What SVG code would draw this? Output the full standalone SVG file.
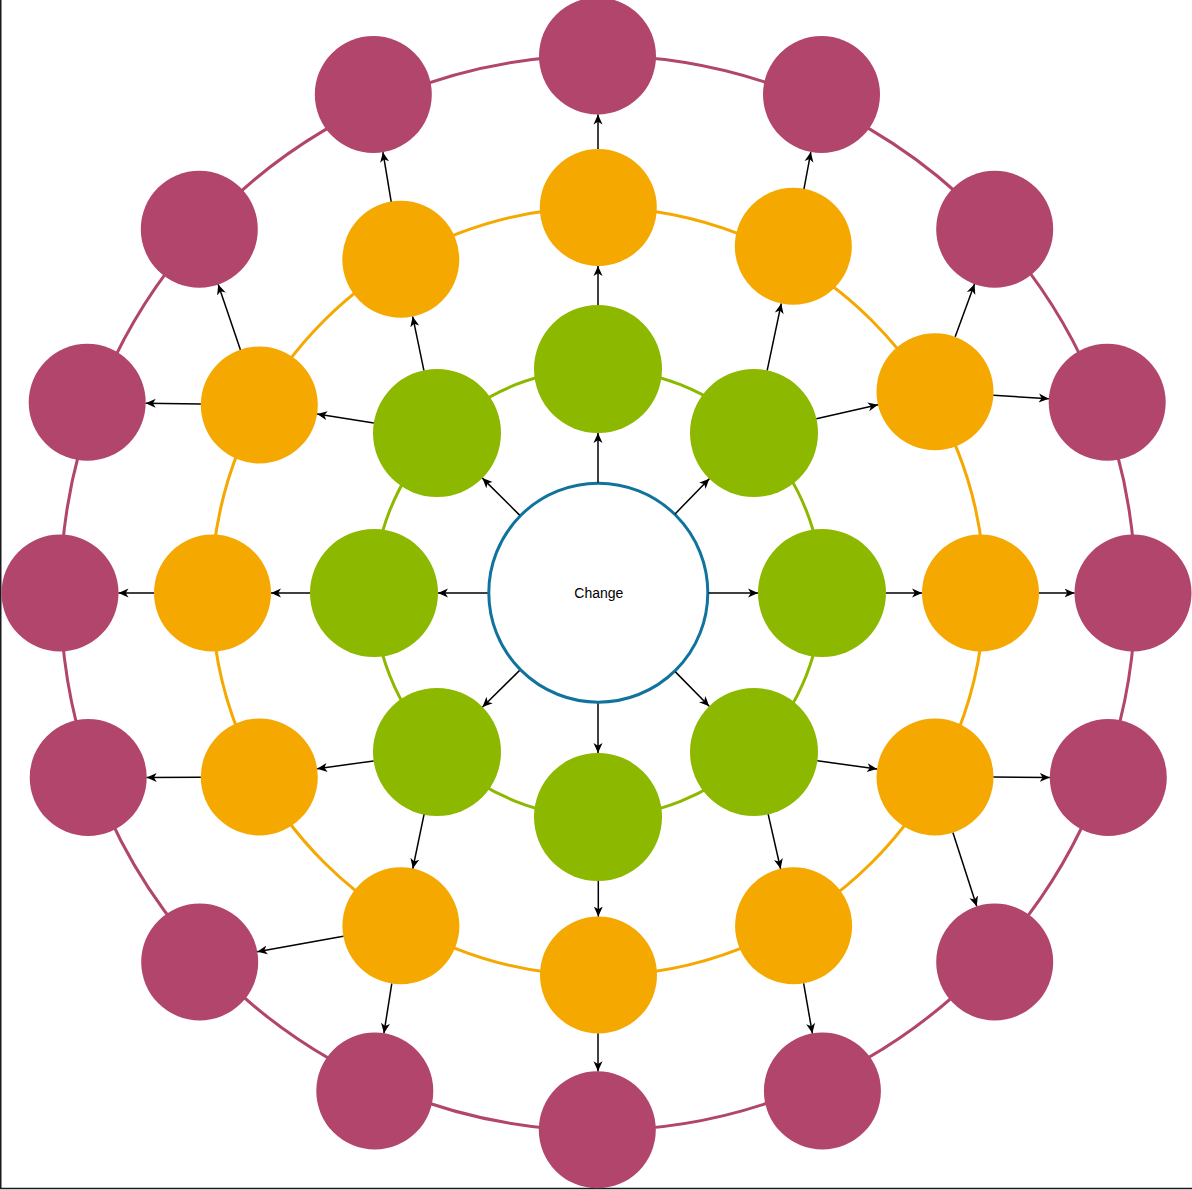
<svg xmlns="http://www.w3.org/2000/svg" width="1192" height="1190" viewBox="0 0 1192 1190">
<defs>
<style>
.ring{fill:none;stroke-width:3}
.g{fill:#8cb800}
.o{fill:#f5a800}
.m{fill:#b1456c}
.e{fill:none;stroke:#000;stroke-width:1.5;marker-end:url(#arr)}
.lbl{font-family:"Liberation Sans",Arial,sans-serif;font-size:14px;fill:#000}
</style>
<marker id="arr" markerWidth="12" markerHeight="12" refX="10" refY="5" orient="auto" markerUnits="userSpaceOnUse">
<path d="M0,0.5 L10,5 L0,9.5 L2.8,5 Z" fill="#000"/>
</marker>
</defs>
<rect width="1192" height="1190" fill="#fff"/>
<path d="M0.75,0 V1188.6 H1192" fill="none" stroke="#1a1a1a" stroke-width="1.5"/>
<g id="rings">
<circle class="ring" cx="598" cy="593" r="537.5" stroke="#b1456c"/>
<ellipse class="ring" cx="598" cy="591.5" rx="386.5" ry="384" stroke="#f5a800"/>
<circle class="ring" cx="598" cy="593" r="224" stroke="#8cb800"/>
</g>
<g id="nodes">
<g id="change"><circle cx="598.3" cy="592.7" r="109.5" fill="#fff" stroke="#10739e" stroke-width="3"/><text class="lbl" x="598.8" y="598" text-anchor="middle">Change</text></g>
<g id="g1"><circle class="g" cx="598" cy="369" r="64"/></g>
<g id="g2"><circle class="g" cx="754" cy="433" r="64"/></g>
<g id="g3"><circle class="g" cx="822" cy="593" r="64"/></g>
<g id="g4"><circle class="g" cx="754" cy="752" r="64"/></g>
<g id="g5"><circle class="g" cx="598" cy="817" r="64"/></g>
<g id="g6"><circle class="g" cx="437" cy="752" r="64"/></g>
<g id="g7"><circle class="g" cx="374" cy="593" r="64"/></g>
<g id="g8"><circle class="g" cx="437" cy="433" r="64"/></g>
<g id="o1"><circle class="o" cx="598.3" cy="207.5" r="58.5"/></g>
<g id="o2"><circle class="o" cx="793.3" cy="246.3" r="58.5"/></g>
<g id="o3"><circle class="o" cx="935" cy="391.7" r="58.5"/></g>
<g id="o4"><circle class="o" cx="980.5" cy="593" r="58.5"/></g>
<g id="o5"><circle class="o" cx="935" cy="777" r="58.5"/></g>
<g id="o6"><circle class="o" cx="793.6" cy="925.8" r="58.5"/></g>
<g id="o7"><circle class="o" cx="598.5" cy="975" r="58.5"/></g>
<g id="o8"><circle class="o" cx="400.9" cy="925.8" r="58.5"/></g>
<g id="o9"><circle class="o" cx="259.3" cy="777" r="58.5"/></g>
<g id="o10"><circle class="o" cx="212.5" cy="593" r="58.5"/></g>
<g id="o11"><circle class="o" cx="259.3" cy="405" r="58.5"/></g>
<g id="o12"><circle class="o" cx="400.8" cy="259.3" r="58.5"/></g>
<g id="m1"><circle class="m" cx="597.5" cy="56" r="58.5"/></g>
<g id="m2"><circle class="m" cx="821.5" cy="94.5" r="58.5"/></g>
<g id="m3"><circle class="m" cx="994.7" cy="229.2" r="58.5"/></g>
<g id="m4"><circle class="m" cx="1107.2" cy="402.3" r="58.5"/></g>
<g id="m5"><circle class="m" cx="1133" cy="593" r="58.5"/></g>
<g id="m6"><circle class="m" cx="1108.3" cy="777.5" r="58.5"/></g>
<g id="m7"><circle class="m" cx="994.7" cy="962" r="58.5"/></g>
<g id="m8"><circle class="m" cx="822.4" cy="1091" r="58.5"/></g>
<g id="m9"><circle class="m" cx="597.3" cy="1129.8" r="58.5"/></g>
<g id="m10"><circle class="m" cx="374.8" cy="1091" r="58.5"/></g>
<g id="m11"><circle class="m" cx="199.7" cy="962" r="58.5"/></g>
<g id="m12"><circle class="m" cx="88.2" cy="777.5" r="58.5"/></g>
<g id="m13"><circle class="m" cx="60" cy="593" r="58.5"/></g>
<g id="m14"><circle class="m" cx="87.2" cy="402.3" r="58.5"/></g>
<g id="m15"><circle class="m" cx="199.3" cy="229.2" r="58.5"/></g>
<g id="m16"><circle class="m" cx="373.3" cy="94.5" r="58.5"/></g>
</g>
<g id="connectors">
<line class="e" x1="598" y1="482.5" x2="598" y2="433"/>
<line class="e" x1="675.1" y1="513.9" x2="709.3" y2="478.8"/>
<line class="e" x1="708.5" y1="593" x2="758" y2="593"/>
<line class="e" x1="675.4" y1="671.9" x2="709.2" y2="706.3"/>
<line class="e" x1="598" y1="703.5" x2="598" y2="753"/>
<line class="e" x1="519.4" y1="670.6" x2="482.5" y2="707"/>
<line class="e" x1="487.5" y1="593" x2="438" y2="593"/>
<line class="e" x1="519.6" y1="515.1" x2="482.4" y2="478.1"/>

<line class="e" x1="598" y1="305" x2="598" y2="266"/>
<line class="e" x1="767.2" y1="370.4" x2="781.25" y2="303.55"/>
<line class="e" x1="816.4" y1="418.8" x2="878" y2="404.7"/>
<line class="e" x1="886" y1="593" x2="922" y2="593"/>
<line class="e" x1="817.4" y1="760.8" x2="877.05" y2="769"/>
<line class="e" x1="768.2" y1="814.4" x2="780.6" y2="868.76"/>
<line class="e" x1="598.3" y1="881" x2="598.3" y2="916.5"/>
<line class="e" x1="424" y1="814.7" x2="412.8" y2="868.5"/>
<line class="e" x1="373.6" y1="760.9" x2="317.2" y2="768.85"/>
<line class="e" x1="310" y1="593" x2="271" y2="593"/>
<line class="e" x1="373.8" y1="423" x2="317.1" y2="414.1"/>
<line class="e" x1="423.9" y1="370.3" x2="412.7" y2="316.6"/>

<line class="e" x1="598" y1="149" x2="598" y2="114.5"/>
<line class="e" x1="803.98" y1="188.78" x2="810.82" y2="152.02"/>
<line class="e" x1="955.17" y1="336.79" x2="974.53" y2="284.11"/>
<line class="e" x1="993.39" y1="395.29" x2="1048.81" y2="398.71"/>
<line class="e" x1="1039" y1="593" x2="1074.5" y2="593"/>
<line class="e" x1="993.5" y1="777" x2="1049.8" y2="777.5"/>
<line class="e" x1="952.97" y1="832.67" x2="976.73" y2="906.33"/>
<line class="e" x1="803.65" y1="983.43" x2="812.36" y2="1033.37"/>
<line class="e" x1="598" y1="1033.5" x2="598" y2="1071.3"/>
<line class="e" x1="391.77" y1="983.58" x2="383.93" y2="1033.22"/>
<line class="e" x1="343.32" y1="936.16" x2="257.28" y2="951.64"/>
<line class="e" x1="200.8" y1="777.2" x2="146.7" y2="777.5"/>
<line class="e" x1="154" y1="593" x2="118.5" y2="593"/>
<line class="e" x1="200.8" y1="404.1" x2="145.7" y2="403.2"/>
<line class="e" x1="240.4" y1="349.64" x2="218.2" y2="284.56"/>
<line class="e" x1="391.17" y1="201.6" x2="382.93" y2="152.2"/>
</g>
</svg>
